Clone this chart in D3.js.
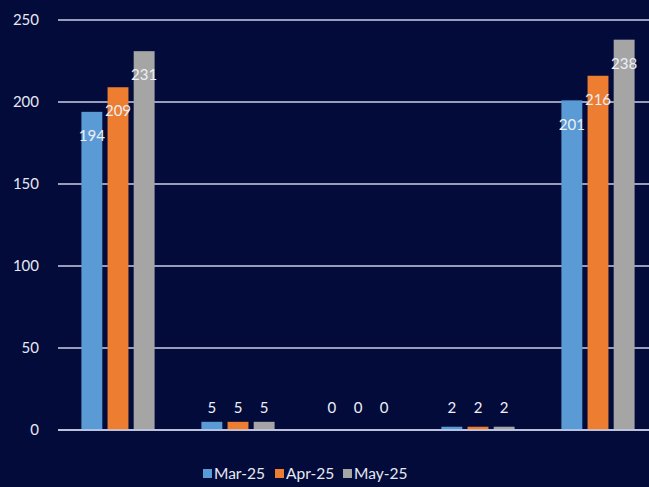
<!DOCTYPE html>
<html>
<head>
<meta charset="utf-8">
<script src="https://cdn.jsdelivr.net/npm/d3@7"></script>
<style>
  body { margin: 0; background: #020b3a; overflow: hidden; }
  svg { display: block; }
</style>
</head>
<body>
<svg></svg>
<script>
// Data
const categories = ["Group 1", "Group 2", "Group 3", "Group 4", "Group 5"];
const seriesNames = ["Mar-25", "Apr-25", "May-25"];
const mar25 = [194, 5, 0, 2, 201];
const apr25 = [209, 5, 0, 2, 216];
const may25 = [231, 5, 0, 2, 238];
const yTicks = [0, 50, 100, 150, 200, 250];

const seriesValues = [mar25, apr25, may25];
const colors = ["#5b9bd5", "#ed7d31", "#a5a5a5"];

const width = 649;
const height = 487;
const margin = { top: 20, left: 58, bottom: 57 };
const plotRight = 658; // plot is cropped on the right in the picture

const svg = d3.select("svg").attr("width", width).attr("height", height);
const font = "Lato, 'Open Sans', sans-serif";

const x0 = d3.scaleBand()
  .domain(categories)
  .range([margin.left, plotRight])
  .paddingInner(0.39)
  .paddingOuter(0.195);

const x1 = d3.scaleBand()
  .domain(seriesNames)
  .range([0, x0.bandwidth()])
  .paddingInner(0.2);

const y = d3.scaleLinear()
  .domain([0, 250])
  .range([height - margin.bottom, margin.top]);

// gridlines
svg.append("g")
  .selectAll("line")
  .data(yTicks)
  .enter()
  .append("line")
  .attr("x1", margin.left)
  .attr("x2", width)
  .attr("y1", (d) => y(d))
  .attr("y2", (d) => y(d))
  .attr("stroke", "#c9cfea")
  .attr("stroke-width", 1.3);

// y axis labels
svg.append("g")
  .selectAll("text")
  .data(yTicks)
  .enter()
  .append("text")
  .attr("x", 39)
  .attr("y", (d) => y(d))
  .attr("dy", "0.35em")
  .attr("text-anchor", "end")
  .attr("font-family", font)
  .attr("font-size", "15px")
  .attr("fill", "#e6e8f2")
  .text((d) => d);

// bars
const groups = svg.append("g")
  .selectAll("g")
  .data(categories)
  .enter()
  .append("g")
  .attr("transform", (d) => `translate(${x0(d)},0)`);

groups.each(function (cat, ci) {
  const g = d3.select(this);
  seriesNames.forEach((s, si) => {
    const v = seriesValues[si][ci];
    g.append("rect")
      .attr("x", x1(s))
      .attr("y", y(v))
      .attr("width", x1.bandwidth())
      .attr("height", y(0) - y(v))
      .attr("fill", colors[si]);
  });
});

// redraw baseline on top
svg.append("line")
  .attr("x1", margin.left)
  .attr("x2", width)
  .attr("y1", y(0))
  .attr("y2", y(0))
  .attr("stroke", "#c9cfea")
  .attr("stroke-width", 1.3);

// data labels
groups.each(function (cat, ci) {
  const g = d3.select(this);
  seriesNames.forEach((s, si) => {
    const v = seriesValues[si][ci];
    const ly = Math.min(y(v) + 24, y(0) - 22);
    g.append("text")
      .attr("x", x1(s) + x1.bandwidth() / 2)
      .attr("y", ly)
      .attr("dy", "0.35em")
      .attr("text-anchor", "middle")
      .attr("font-family", font)
      .attr("font-size", "15px")
      .attr("fill", "#eef0f6")
      .text(v);
  });
});

// legend
const legend = svg.append("g").attr("transform", `translate(203, 474)`);
const legendOffsets = [0, 72, 140];
seriesNames.forEach((s, i) => {
  const item = legend.append("g").attr("transform", `translate(${legendOffsets[i]},0)`);
  item.append("rect")
    .attr("x", 0)
    .attr("y", -5)
    .attr("width", 9)
    .attr("height", 9)
    .attr("fill", colors[i]);
  item.append("text")
    .attr("x", 11)
    .attr("y", 0)
    .attr("dy", "0.35em")
    .attr("font-family", font)
    .attr("font-size", "15.5px")
    .attr("fill", "#e6e8f2")
    .text(s);
});
</script>
</body>
</html>
